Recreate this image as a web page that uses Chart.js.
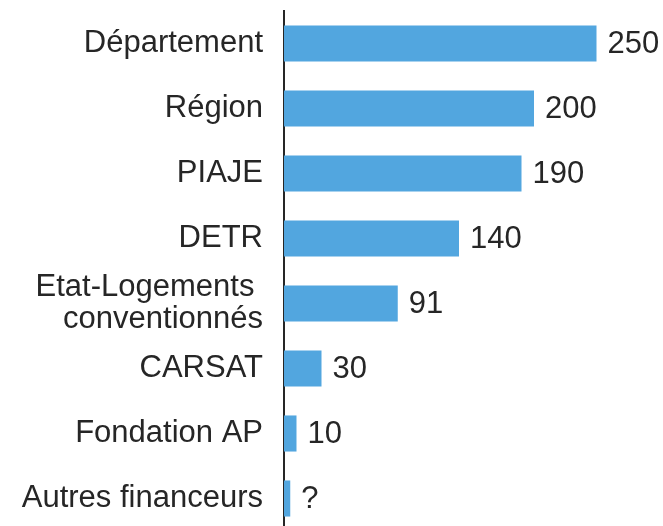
<!DOCTYPE html>
<html>
<head>
<meta charset="utf-8">
<script src="https://cdn.jsdelivr.net/npm/chart.js@4/dist/chart.umd.min.js"></script>
<style>
  html, body { margin: 0; padding: 0; background: #fff; overflow: hidden; }
  #wrap { width: 663px; height: 531px; }
</style>
</head>
<body>
<div id="wrap"><canvas id="chart"></canvas></div>
<script>
var categories = ['Département', 'Région', 'PIAJE', 'DETR', ['Etat-Logements ', 'conventionnés'], 'CARSAT', 'Fondation AP', 'Autres financeurs'];
var amounts = [250, 200, 190, 140, 91, 30, 10, 5];
var valueLabels = ['250', '200', '190', '140', '91', '30', '10', '?'];

// writes the value at the end of each bar
var barValues = {
    id: 'barValues',
    afterDatasetsDraw: function(chart){
        var ctx = chart.ctx;
        var meta = chart.getDatasetMeta(0);
        ctx.save();
        ctx.font = '31px "Liberation Sans", Arial, sans-serif';
        ctx.fillStyle = '#262626';
        ctx.textAlign = 'left';
        ctx.textBaseline = 'middle';
        for(var i=0; i<meta.data.length; i++){
            var bar = meta.data[i];
            ctx.fillText(valueLabels[i], bar.x + 11, bar.y + 1);
        }
        ctx.restore();
    }
};

var ctx = document.getElementById('chart').getContext('2d');
var myChart = new Chart(ctx, {
    type: 'bar',
    data: {
        labels: categories,
        datasets: [{
            data: amounts,
            backgroundColor: '#52A6DF',
            borderWidth: 0,
            categoryPercentage: 1,
            barPercentage: 0.555
        }]
    },
    options: {
        indexAxis: 'y',
        responsive: true,
        maintainAspectRatio: false,
        animation: false,
        layout: { padding: { top: 11, right: 4, bottom: 0, left: 0 } },
        plugins: {
            legend: { display: false },
            tooltip: { enabled: false }
        },
        scales: {
            x: {
                display: false,
                min: 0,
                max: 300
            },
            y: {
                grid: { display: false, drawTicks: false },
                border: { display: true, color: '#262626', width: 2 },
                afterFit: function(scale){
                    scale.width = 284;
                    scale.paddingTop = 0;
                    scale.paddingBottom = 0;
                },
                ticks: {
                    autoSkip: false,
                    padding: 21,
                    color: '#262626',
                    font: { family: '"Liberation Sans", Arial, sans-serif', size: 31, lineHeight: 1.03 }
                }
            }
        }
    },
    plugins: [barValues]
});
</script>
</body>
</html>
